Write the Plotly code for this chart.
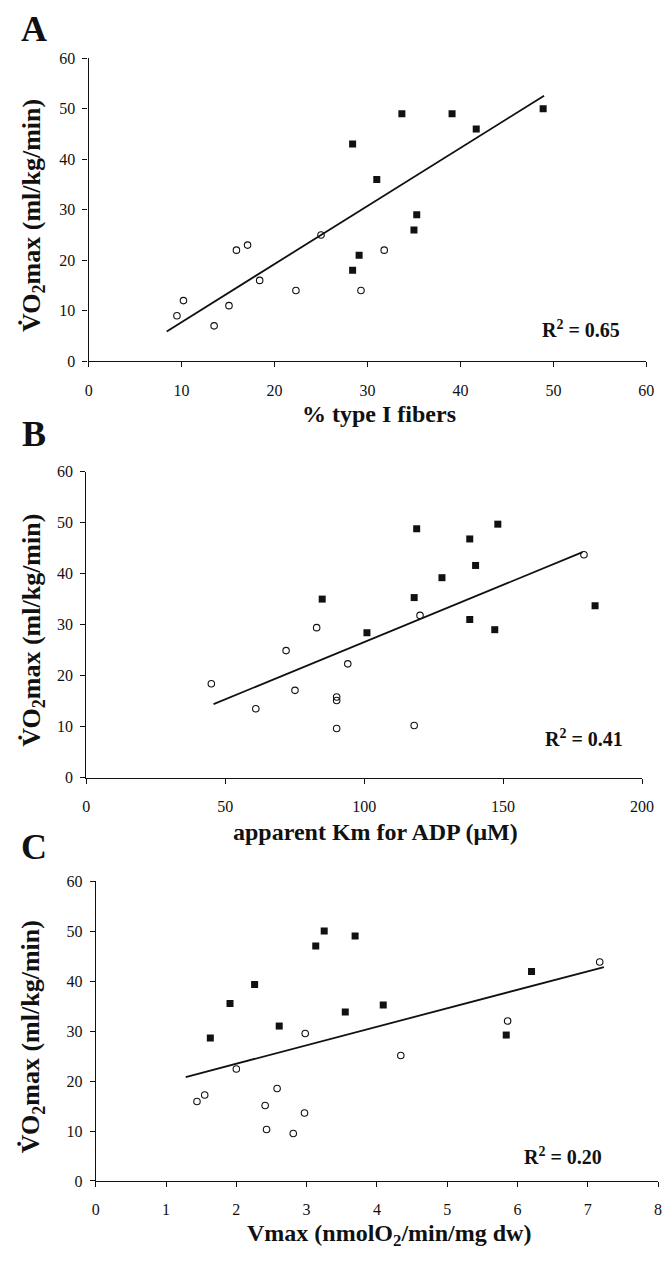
import plotly.graph_objects as go

# ---------------- Data ----------------
# Panel A: % type I fibers vs VO2max
a_circ_x = [9.5, 10.2, 13.5, 15.1, 15.9, 17.1, 18.4, 22.3, 25.0, 29.3, 31.8]
a_circ_y = [9, 12, 7, 11, 22, 23, 16, 14, 25, 14, 22]
a_sq_x = [28.4, 28.4, 29.1, 31.0, 33.7, 35.0, 35.3, 39.1, 41.7, 48.9]
a_sq_y = [43, 18, 21, 36, 49, 26, 29, 49, 46, 50]
a_fit_x = [8.4, 49.0]
a_fit_y = [5.9, 52.6]
a_r2 = "0.65"

# Panel B: apparent Km for ADP vs VO2max
b_circ_x = [45.0, 61.0, 71.9, 75.1, 82.9, 90.1, 90.1, 90.1, 94.1, 120.1, 118.0, 179.1]
b_circ_y = [18.4, 13.5, 24.9, 17.1, 29.4, 15.8, 15.1, 9.6, 22.3, 31.8, 10.2, 43.7]
b_sq_x = [84.9, 101.0, 118.9, 118.0, 128.0, 138.0, 140.1, 138.0, 148.1, 147.0, 183.1]
b_sq_y = [35.0, 28.4, 48.8, 35.3, 39.2, 46.8, 41.6, 31.0, 49.7, 29.0, 33.7]
b_fit_x = [45.8, 178.6]
b_fit_y = [14.4, 44.2]
b_r2 = "0.41"

# Panel C: Vmax vs VO2max
c_circ_x = [1.44, 1.55, 2.00, 2.41, 2.43, 2.58, 2.81, 2.97, 2.98, 4.34, 5.86, 7.17]
c_circ_y = [15.9, 17.2, 22.4, 15.1, 10.3, 18.5, 9.5, 13.6, 29.5, 25.1, 32.0, 43.8]
c_sq_x = [1.63, 1.91, 2.26, 2.61, 3.13, 3.25, 3.55, 3.69, 4.09, 5.84, 6.20]
c_sq_y = [28.6, 35.5, 39.3, 31.0, 47.0, 50.0, 33.8, 49.0, 35.2, 29.2, 41.9]
c_fit_x = [1.28, 7.23]
c_fit_y = [20.8, 42.8]
c_r2 = "0.20"

panel_letters = ["A", "B", "C"]
x_titles = ["% type I fibers", "apparent Km for ADP (μM)", "Vmax (nmolO<sub>2</sub>/min/mg dw)"]
y_title = "V̇O<sub>2</sub>max (ml/kg/min)"
x_ranges = [[0, 60], [0, 200], [0, 8]]
x_dticks = [10, 50, 1]
y_range = [0, 60]

# ---------------- Layout geometry (pixels) ----------------
W, H = 672, 1263
# (x_left, x_right, y_top, y_bottom) of each plotting area, in pixels
boxes = [(86.7, 658.0, 51.0, 358.0),
         (84.3, 653.6, 470.0, 780.0),
         (94.0, 670.0, 885.0, 1189.0)]

def px(x):
    return x / W

def py(y):
    return 1 - y / H

INK = "#111111"
SERIF = "Liberation Serif, Times New Roman, serif"

fig = go.Figure()

panels = [
    (a_circ_x, a_circ_y, a_sq_x, a_sq_y, a_fit_x, a_fit_y, a_r2),
    (b_circ_x, b_circ_y, b_sq_x, b_sq_y, b_fit_x, b_fit_y, b_r2),
    (c_circ_x, c_circ_y, c_sq_x, c_sq_y, c_fit_x, c_fit_y, c_r2),
]
r2_pos = [(591, 325), (594, 740), (573, 1164)]
letter_pos = [(31, 21), (31, 432), (31, 850)]
xtitle_dy = [54, 55, 55]

for i, (cx, cy, sx, sy, fx, fy, r2) in enumerate(panels):
    n = "" if i == 0 else str(i + 1)
    xa, ya = "x" + n, "y" + n
    fig.add_trace(go.Scatter(x=fx, y=fy, mode="lines", xaxis=xa, yaxis=ya,
                             line=dict(color=INK, width=1.8), showlegend=False,
                             hoverinfo="skip"))
    fig.add_trace(go.Scatter(x=cx, y=cy, mode="markers", xaxis=xa, yaxis=ya,
                             marker=dict(symbol="circle-open", size=6.5, color=INK,
                                         line=dict(width=1.1, color=INK)),
                             showlegend=False))
    fig.add_trace(go.Scatter(x=sx, y=sy, mode="markers", xaxis=xa, yaxis=ya,
                             marker=dict(symbol="square", size=7, color=INK,
                                         line=dict(width=0)),
                             showlegend=False))
    x0, x1, y0, y1 = boxes[i]
    axis_common = dict(showgrid=False, zeroline=False, showline=True,
                       linecolor=INK, linewidth=1.3, ticks="outside",
                       ticklen=5, tickwidth=1.2, tickcolor=INK,
                       tickfont=dict(family=SERIF, size=16, color=INK))
    fig.update_layout(**{
        "xaxis" + n: dict(domain=[px(x0), px(x1)], range=x_ranges[i],
                          tick0=0, dtick=x_dticks[i], anchor=ya,
                          ticklabelstandoff=9, **axis_common),
        "yaxis" + n: dict(domain=[py(y1), py(y0)], range=y_range,
                          tick0=0, dtick=10, anchor=xa,
                          ticklabelstandoff=4, **axis_common),
    })
    # axis titles
    fig.add_annotation(x=px((x0 + x1) / 2 + 12), y=py(y1 + xtitle_dy[i]), xref="paper", yref="paper",
                       text="<b>" + x_titles[i] + "</b>", showarrow=False,
                       font=dict(family=SERIF, size=24, color=INK),
                       xanchor="center", yanchor="middle")
    fig.add_annotation(x=px(29), y=py((y0 + y1) / 2 + 6), xref="paper", yref="paper",
                       text="<b>" + y_title + "</b>", showarrow=False, textangle=-90,
                       font=dict(family=SERIF, size=26, color=INK),
                       xanchor="center", yanchor="middle")
    # R^2 label
    fig.add_annotation(x=px(r2_pos[i][0]), y=py(r2_pos[i][1]), xref="paper", yref="paper",
                       text="<b>R<sup>2</sup> = " + r2 + "</b>", showarrow=False,
                       font=dict(family=SERIF, size=20, color=INK),
                       xanchor="center", yanchor="middle")
    # panel letter
    fig.add_annotation(x=px(letter_pos[i][0]), y=py(letter_pos[i][1]), xref="paper", yref="paper",
                       text="<b>" + panel_letters[i] + "</b>", showarrow=False,
                       font=dict(family=SERIF, size=36, color=INK),
                       xanchor="center", yanchor="middle")

fig.update_layout(width=W, height=H, margin=dict(l=0, r=0, t=0, b=0),
                  paper_bgcolor="white", plot_bgcolor="white", showlegend=False)

fig.write_html("out.html", config={"displayModeBar": False},
               post_script="document.body.style.margin='0';"
                           "document.body.style.overflow='hidden';")
